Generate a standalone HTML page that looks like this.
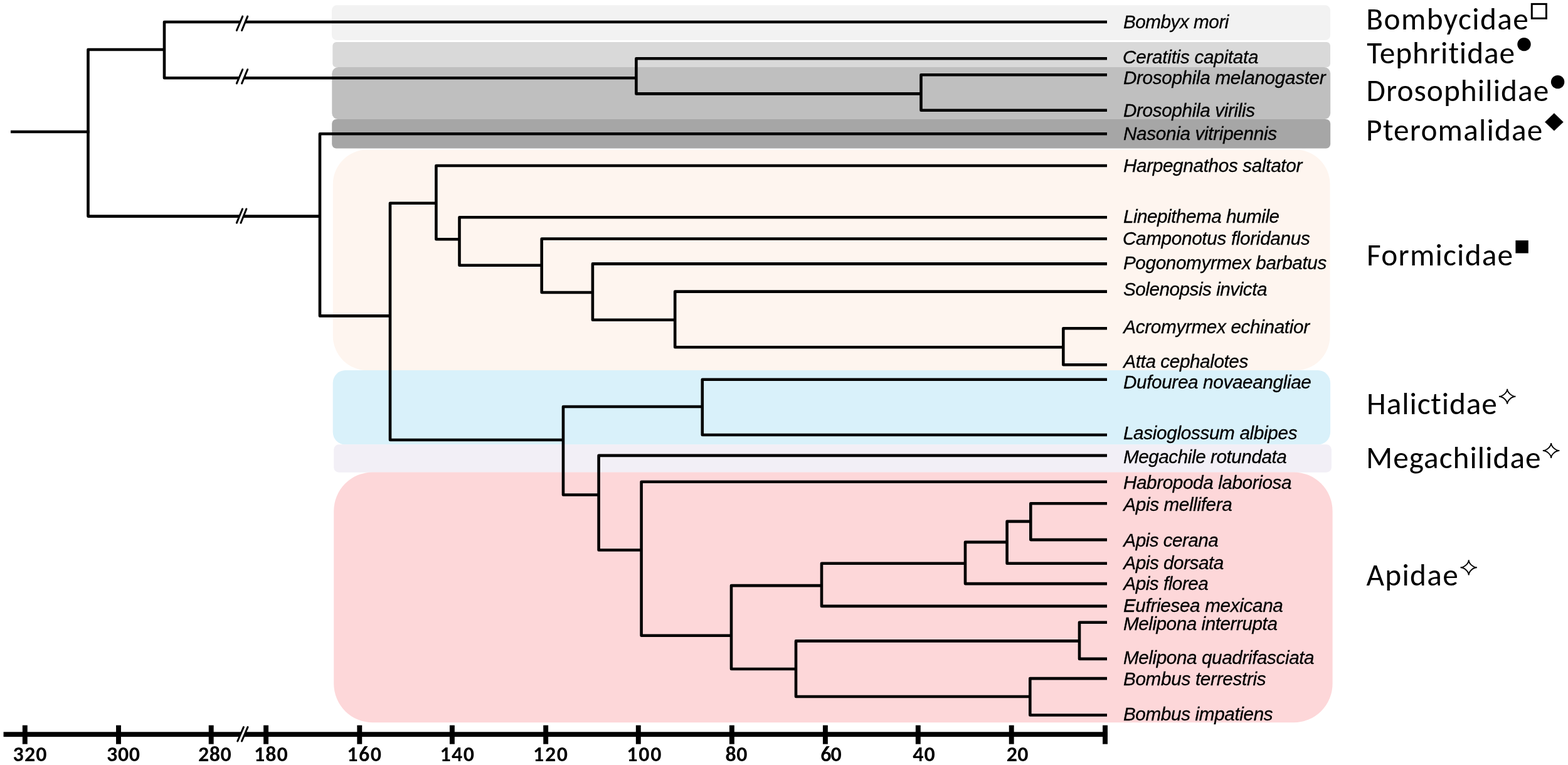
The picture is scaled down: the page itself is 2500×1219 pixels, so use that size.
<!DOCTYPE html>
<html><head><meta charset="utf-8"><title>Phylogeny</title><style>html,body{margin:0;padding:0;background:#fff;overflow:hidden}svg{display:block}.sp{font-family:"Liberation Sans",Arial,sans-serif;font-style:italic;font-size:29.70px;fill:#000;stroke:#000;stroke-width:0.3px}.fam{font-variant-ligatures:none;font-feature-settings:"liga" 0,"clig" 0;font-family:Carlito,Calibri,"Liberation Sans",sans-serif;font-size:49.30px;fill:#000}.ax{font-family:Carlito,Calibri,"Liberation Sans",sans-serif;font-weight:bold;font-size:34px;fill:#000;text-anchor:middle}</style></head><body>
<svg width="2500" height="1219" viewBox="0 0 2500 1219">
<rect width="2500" height="1219" fill="#fff"/>
<rect x="529.0" y="8.3" width="1592.0" height="55.7" rx="8" ry="8" fill="#f2f2f2"/>
<rect x="530.3" y="66.9" width="1590.7" height="40.3" rx="6" ry="6" fill="#d9d9d9"/>
<rect x="529.3" y="107.0" width="1591.9" height="83.3" rx="10" ry="10" fill="#bfbfbf"/>
<rect x="529.2" y="190.0" width="1592.0" height="46.5" rx="7" ry="7" fill="#a6a6a6"/>
<rect x="530.8" y="238.6" width="1589.7" height="351.7" rx="55" ry="55" fill="#fef5ef"/>
<rect x="530.7" y="590.1" width="1590.4" height="118.4" rx="20" ry="20" fill="#d9f1fa"/>
<rect x="532.2" y="708.3" width="1590.7" height="44.4" rx="8" ry="8" fill="#f2eff6"/>
<rect x="532.2" y="752.4" width="1592.4" height="398.9" rx="62" ry="62" fill="#fdd7d9"/>
<g stroke="#000" stroke-width="4.60" fill="none" stroke-linecap="butt" stroke-linejoin="round">
<path d="M262.00,79.0 H140.5 V344.6 H510.00"/>
<path d="M1765.00,35.0 H262 V124.3 H1014.40"/>
<path d="M1765.00,93.3 H1014.4 V149.4 H1468.50"/>
<path d="M1765.00,119.3 H1468.5 V175.8 H1765.00"/>
<path d="M1765.00,213.3 H510 V503.4 H622.00"/>
<path d="M695.40,323.8 H622 V701.0 H898.00"/>
<path d="M1765.00,264.0 H695.4 V381.2 H732.50"/>
<path d="M1765.00,346.3 H732.5 V422.8 H863.70"/>
<path d="M1765.00,380.5 H863.7 V466.0 H944.90"/>
<path d="M1765.00,420.4 H944.9 V509.7 H1076.20"/>
<path d="M1765.00,464.6 H1076.2 V553.3 H1695.30"/>
<path d="M1765.00,523.2 H1695.3 V581.3 H1765.00"/>
<path d="M1119.80,648.0 H898 V788.5 H954.60"/>
<path d="M1765.00,604.7 H1119.8 V693.0 H1765.00"/>
<path d="M1765.00,725.9 H954.6 V876.5 H1022.60"/>
<path d="M1765.00,767.8 H1022.6 V1012.7 H1166.00"/>
<path d="M1310.00,933.1 H1166.0 V1066.0 H1269.00"/>
<path d="M1539.00,897.8 H1310.0 V965.9 H1765.00"/>
<path d="M1605.60,863.9 H1539.0 V930.1 H1765.00"/>
<path d="M1643.30,830.9 H1605.6 V897.8 H1765.00"/>
<path d="M1765.00,802.2 H1643.3 V860.1 H1765.00"/>
<path d="M1721.00,1021.4 H1269.0 V1110.0 H1642.30"/>
<path d="M1765.00,991.8 H1721.0 V1049.9 H1765.00"/>
<path d="M1765.00,1081.1 H1642.3 V1139.5 H1765.00"/>
<line x1="17.00" y1="210.0" x2="142.80" y2="210.0"/>
</g>
<g fill="#000">
<rect x="5.6" y="1166.3" width="1760.3" height="7.8"/>
<rect x="35.85" y="1155.7" width="7.9" height="30.0"/>
<rect x="185.05" y="1155.7" width="7.9" height="30.0"/>
<rect x="332.75" y="1155.7" width="7.9" height="30.0"/>
<rect x="420.15" y="1155.7" width="7.9" height="30.0"/>
<rect x="569.35" y="1155.7" width="7.9" height="30.0"/>
<rect x="716.95" y="1155.7" width="7.9" height="30.0"/>
<rect x="866.25" y="1155.7" width="7.9" height="30.0"/>
<rect x="1013.85" y="1155.7" width="7.9" height="30.0"/>
<rect x="1162.95" y="1155.7" width="7.9" height="30.0"/>
<rect x="1311.95" y="1155.7" width="7.9" height="30.0"/>
<rect x="1459.85" y="1155.7" width="7.9" height="30.0"/>
<rect x="1608.75" y="1155.7" width="7.9" height="30.0"/>
<rect x="1758.05" y="1155.7" width="7.9" height="30.0"/>
</g>
<polygon fill="#fff" points="384.4,31.7 392.4,31.7 389.7,38.3 381.6,38.3"/>
<line x1="377.36" y1="48.49" x2="386.74" y2="26.11" stroke="#000" stroke-width="3" stroke-linecap="round"/>
<line x1="385.56" y1="48.49" x2="394.74" y2="26.11" stroke="#000" stroke-width="3" stroke-linecap="round"/>
<polygon fill="#fff" points="382.4,121.0 390.5,121.0 387.7,127.6 379.6,127.6"/>
<line x1="377.37" y1="132.89" x2="386.73" y2="110.71" stroke="#000" stroke-width="3" stroke-linecap="round"/>
<line x1="385.56" y1="132.89" x2="394.74" y2="110.71" stroke="#000" stroke-width="3" stroke-linecap="round"/>
<polygon fill="#fff" points="383.1,341.3 389.5,341.3 386.9,347.9 380.4,347.9"/>
<line x1="377.36" y1="355.19" x2="386.54" y2="333.01" stroke="#000" stroke-width="3" stroke-linecap="round"/>
<line x1="383.95" y1="355.19" x2="392.85" y2="333.01" stroke="#000" stroke-width="3" stroke-linecap="round"/>
<polygon fill="#fff" points="385.5,1165.3 392.2,1165.3 388.0,1175.1 381.3,1175.1"/>
<line x1="378.77" y1="1181.00" x2="388.43" y2="1158.60" stroke="#000" stroke-width="3" stroke-linecap="round"/>
<line x1="385.47" y1="1181.00" x2="395.03" y2="1158.60" stroke="#000" stroke-width="3" stroke-linecap="round"/>
<text class="ax" x="47.50" y="1213.2" textLength="54.04">320</text>
<text class="ax" x="196.50" y="1213.2" textLength="53.20">300</text>
<text class="ax" x="342.44" y="1213.2" textLength="52.78">280</text>
<text class="ax" x="431.84" y="1213.2" textLength="53.80">180</text>
<text class="ax" x="580.72" y="1213.2" textLength="54.76">160</text>
<text class="ax" x="728.72" y="1213.2" textLength="54.34">140</text>
<text class="ax" x="877.60" y="1213.2" textLength="55.00">120</text>
<text class="ax" x="1026.86" y="1213.2" textLength="55.03">100</text>
<text class="ax" x="1174.06" y="1213.2" textLength="35.03">80</text>
<text class="ax" x="1325.00" y="1213.2" textLength="33.51">60</text>
<text class="ax" x="1473.06" y="1213.2" textLength="35.59">40</text>
<text class="ax" x="1622.20" y="1213.2" textLength="34.67">20</text>
<text class="sp" x="1790.90" y="45.30" textLength="168.51">Bombyx mori</text>
<text class="sp" x="1790.10" y="101.10" textLength="216.39">Ceratitis capitata</text>
<text class="sp" x="1790.90" y="134.20" textLength="322.73">Drosophila melanogaster</text>
<text class="sp" x="1790.90" y="186.10" textLength="210.26">Drosophila virilis</text>
<text class="sp" x="1790.90" y="222.90" textLength="245.17">Nasonia vitripennis</text>
<text class="sp" x="1790.90" y="273.90" textLength="285.43">Harpegnathos saltator</text>
<text class="sp" x="1790.90" y="354.90" textLength="249.17">Linepithema humile</text>
<text class="sp" x="1789.90" y="389.80" textLength="298.82">Camponotus floridanus</text>
<text class="sp" x="1790.90" y="429.20" textLength="324.44">Pogonomyrmex barbatus</text>
<text class="sp" x="1790.90" y="471.00" textLength="229.55">Solenopsis invicta</text>
<text class="sp" x="1791.36" y="531.30" textLength="296.67">Acromyrmex echinatior</text>
<text class="sp" x="1791.36" y="586.40" textLength="198.91">Atta cephalotes</text>
<text class="sp" x="1790.90" y="619.00" textLength="299.96">Dufourea novaeangliae</text>
<text class="sp" x="1790.90" y="700.30" textLength="277.63">Lasioglossum albipes</text>
<text class="sp" x="1790.90" y="737.70" textLength="260.95">Megachile rotundata</text>
<text class="sp" x="1790.90" y="779.40" textLength="268.62">Habropoda laboriosa</text>
<text class="sp" x="1791.36" y="813.60" textLength="173.30">Apis mellifera</text>
<text class="sp" x="1791.36" y="870.50" textLength="151.48">Apis cerana</text>
<text class="sp" x="1791.36" y="907.30" textLength="159.97">Apis dorsata</text>
<text class="sp" x="1791.36" y="939.70" textLength="135.47">Apis florea</text>
<text class="sp" x="1790.90" y="974.70" textLength="254.95">Eufriesea mexicana</text>
<text class="sp" x="1790.90" y="1003.70" textLength="246.01">Melipona interrupta</text>
<text class="sp" x="1790.90" y="1057.60" textLength="304.72">Melipona quadrifasciata</text>
<text class="sp" x="1790.90" y="1091.70" textLength="227.70">Bombus terrestris</text>
<text class="sp" x="1790.90" y="1148.00" textLength="238.80">Bombus impatiens</text>
<text class="fam" x="2178.28" y="47.30" textLength="258.51">Bombycidae</text>
<text class="fam" x="2179.16" y="100.80" textLength="235.96">Tephritidae</text>
<text class="fam" x="2178.48" y="160.50" textLength="290.78">Drosophilidae</text>
<text class="fam" x="2178.00" y="223.90" textLength="281.35">Pteromalidae</text>
<text class="fam" x="2179.12" y="423.20" textLength="233.00">Formicidae</text>
<text class="fam" x="2179.12" y="659.80" textLength="207.67">Halictidae</text>
<text class="fam" x="2178.12" y="746.20" textLength="278.44">Megachilidae</text>
<text class="fam" x="2178.56" y="932.90" textLength="146.14">Apidae</text>
<rect x="2442.3" y="6.4" width="23.1" height="22.9" fill="none" stroke="#000" stroke-width="3"/>
<circle cx="2430.0" cy="70.6" r="10.7" fill="#000"/>
<circle cx="2483.6" cy="130.6" r="10.7" fill="#000"/>
<polygon points="2477.9,180.3 2492.7,194.4 2477.9,208.5 2463.1,194.4" fill="#000"/>
<rect x="2416.4" y="383.1" width="20.4" height="20.4" fill="#000"/>
<path d="M2403.20,619.80 C2403.20,625.44 2410.22,631.80 2416.45,631.80 C2410.22,631.80 2403.20,638.16 2403.20,643.80 C2403.20,638.16 2396.18,631.80 2389.95,631.80 C2396.18,631.80 2403.20,625.44 2403.20,619.80 Z" fill="none" stroke="#000" stroke-width="1.9" stroke-linejoin="miter" stroke-miterlimit="2"/>
<path d="M2473.10,706.10 C2473.10,711.69 2480.12,718.00 2486.35,718.00 C2480.12,718.00 2473.10,724.31 2473.10,729.90 C2473.10,724.31 2466.08,718.00 2459.85,718.00 C2466.08,718.00 2473.10,711.69 2473.10,706.10 Z" fill="none" stroke="#000" stroke-width="1.9" stroke-linejoin="miter" stroke-miterlimit="2"/>
<path d="M2341.70,892.15 C2341.70,897.86 2348.67,904.30 2354.85,904.30 C2348.67,904.30 2341.70,910.74 2341.70,916.45 C2341.70,910.74 2334.73,904.30 2328.55,904.30 C2334.73,904.30 2341.70,897.86 2341.70,892.15 Z" fill="none" stroke="#000" stroke-width="1.9" stroke-linejoin="miter" stroke-miterlimit="2"/>
</svg>
</body></html>
